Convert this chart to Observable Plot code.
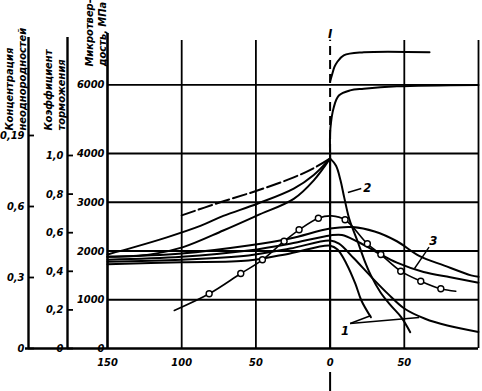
<!DOCTYPE html>
<html><head><meta charset="utf-8">
<script src="https://cdn.jsdelivr.net/npm/d3@7"></script>
<script src="https://cdn.jsdelivr.net/npm/@observablehq/plot@0.6"></script>
<style>
body{margin:0;background:#fff;}
#wrap{position:relative;width:482px;height:391px;overflow:hidden;background:#fff;}
#wrap svg{position:absolute;left:0;top:0;}
</style></head><body><div id="wrap"></div>
<script>
// ---- axis ticks / labels ----
const xTicks = [-150, -100, -50, 0, 50];
const xTickLabels = ["150", "100", "50", "0", "50"];
const gridX = [-100, -50, 50, 100];
const mpaTicks = [0, 1000, 2000, 3000, 4000, 6000];
const mpaLabels = ["0", "1000", "2000", "3000", "4000", "6000"];
const gridY = [1000, 2000, 3000, 4000, 6000];
const coefTicks = [0, 0.2, 0.4, 0.6, 0.8, 1.0];
const coefLabels = ["0", "0,2", "0,4", "0,6", "0,8", "1,0"];
const concTicks = [0, 0.3, 0.6, 0.9];
const concLabels = ["0", "0,3", "0,6", "0,19"];
const concTitle = "Концентрация\nнеоднородностей";
const coefTitle = "Коэффициент\nторможения";
const mpaTitle = "Микротвер-\nдость, МПа";

// ---- series (x: distance, µm; y: microhardness, MPa) ----
const dashedCurve = [[-100,2730],[-74,3000],[-49,3240],[-24.5,3510],[-11,3700],[0,3900]];
const curveA = [[-150,1930],[-132,2080],[-110,2280],[-87,2520],[-72,2720],[-49,2970],[-24.5,3280],[-11,3560],[0,3900]];
const curveB = [[-150,1880],[-121,1930],[-99,2080],[-72,2420],[-49,2730],[-24.5,3070],[-11,3450],[0,3900]];
const curveM1 = [[-150,1880],[-100,1950],[-55,2113],[-27,2256],[0,2460],[15,2490],[30,2400],[45,2200],[60,1900],[77,1700],[95,1500],[100,1470]];
const curveM2 = [[-150,1820],[-100,1880],[-55,2010],[-27,2150],[0,2320],[8,2330],[18,2200],[30,2000],[45,1760],[63,1570],[81,1460],[100,1350]];
const curveM3 = [[-150,1780],[-100,1820],[-55,1908],[-27,2050],[0,2215],[6,2150],[16,1850],[28,1460],[39,1120],[50,820],[64,610],[79,470],[100,340]];
const curveM4 = [[-150,1730],[-100,1770],[-55,1805],[-27,1950],[0,2110],[5,2030],[11,1740],[17,1330],[21,990],[27.5,640]];
const curve2 = [[0,3900],[4,3750],[7,3450],[9.5,3100],[13,2650],[18.5,2200],[23,1820],[27.5,1500],[34,1150],[41,880],[48,640],[54,335]];
const curve3Line = [[-105,780],[-81.5,1122],[-60.2,1538],[-45.6,1819],[-31,2201],[-20.9,2435],[-7.9,2673],[1,2720],[10.1,2640],[25.1,2148],[34.2,1928],[47.6,1586],[61.1,1381],[74.6,1225],[84.7,1175]];
const curve3Dots = [[-81.5,1122],[-60.2,1538],[-45.6,1819],[-31,2201],[-20.9,2435],[-7.9,2673],[10.1,2640],[25.1,2148],[34.2,1928],[47.6,1586],[61.1,1381],[74.6,1225]];
const topCurve1 = [[0,6100],[1.3,6300],[3,6530],[4.7,6660],[9.2,6860],[22.7,6950],[67,6950]];
const topCurve2 = [[0,4000],[0.2,4730],[2.5,5350],[5.9,5690],[13.5,5840],[22.7,5890],[45,5960],[100,6000]];

// ---- annotations ----
const curveLabels = [
  {t: "2", x: 25, y: 3300},
  {t: "3", x: 69.5, y: 2215},
  {t: "1", x: 10, y: 369},
  {t: "I", x: 0, y: 7500}
];
const leaders = [
  {x1: 12, y1: 3200, x2: 21, y2: 3282},
  {x1: 66.7, y1: 2078, x2: 56.9, y2: 1641},
  {x1: 13.5, y1: 513, x2: 27.6, y2: 677},
  {x1: 13.5, y1: 513, x2: 60, y2: 636}
];

const FONT = "'DejaVu Sans Condensed','Liberation Sans Narrow','DejaVu Sans',sans-serif";
const pts = a => a.map(([x, y]) => ({x, y}));
const L = {x: "x", y: "y", stroke: "#000", strokeWidth: 2, curve: "catmull-rom"};
const T = {fontFamily: FONT, fontStyle: "italic", fontWeight: "bold", fill: "#000"};
const W = 482, H = 391;
const wrap = document.getElementById("wrap");
// axis break: above 4000 MPa the printed scale is compressed
const brk = v => v <= 4000 ? v : 4000 + (v - 4000) * 0.7036;

const main = Plot.plot({
  width: W, height: H,
  marginLeft: 107, marginRight: 4, marginTop: 33, marginBottom: 43,
  x: {domain: [-150, 100], range: [107, 478], axis: null},
  y: {domain: [0, 4000], range: [348, 153], transform: brk, axis: null},
  style: {background: "transparent"},
  marks: [
    Plot.ruleY(gridY, {stroke: "#000", strokeWidth: 1.8}),
    Plot.ruleX(gridX, {stroke: "#000", strokeWidth: 1.8, insetTop: 7}),
    Plot.ruleX([-150], {stroke: "#000", strokeWidth: 2.6}),
    Plot.ruleY([0], {stroke: "#000", strokeWidth: 2.4, insetLeft: -82}),
    Plot.ruleX([0], {y1: 0, y2: 4000, stroke: "#000", strokeWidth: 2.2}),
    Plot.ruleX([0], {y1: 4000, y2: 7300, stroke: "#000", strokeWidth: 2, strokeDasharray: "9,5"}),
    Plot.ruleX([0], {stroke: "#000", strokeWidth: 2, insetTop: 339, insetBottom: -43}),
    Plot.line(pts(dashedCurve), {...L, strokeDasharray: "14,4"}),
    Plot.line(pts(curveA), L),
    Plot.line(pts(curveB), L),
    Plot.line(pts(curveM1), L),
    Plot.line(pts(curveM2), L),
    Plot.line(pts(curveM3), L),
    Plot.line(pts(curveM4), L),
    Plot.line(pts(curve2), L),
    Plot.line(pts(curve3Line), {...L, strokeWidth: 1.6}),
    Plot.dot(pts(curve3Dots), {x: "x", y: "y", r: 3, fill: "#fff", stroke: "#000", strokeWidth: 1.4}),
    Plot.line(pts(topCurve1), L),
    Plot.line(pts(topCurve2), L),
    Plot.link(leaders, {x1: "x1", y1: "y1", x2: "x2", y2: "y2", stroke: "#000", strokeWidth: 1.4}),
    Plot.text(curveLabels, {x: "x", y: "y", text: "t", fontSize: 13, ...T}),
    Plot.text(xTicks, {x: d => d, y: () => 0, text: (d, i) => xTickLabels[i], dy: 14, fontSize: 11, ...T}),
    Plot.text(mpaTicks, {x: () => -150, y: d => d, text: (d, i) => mpaLabels[i], textAnchor: "end", dx: -3, fontSize: 11, ...T}),
    Plot.text([mpaTitle], {frameAnchor: "top-left", dx: -24, dy: 33, rotate: -90, textAnchor: "start", lineAnchor: "top", lineHeight: 1.2, fontSize: 11, ...T})
  ]
});
wrap.appendChild(main);

function sideAxis(left, domain, range, ticks, labels, title) {
  return Plot.plot({
    width: W, height: H,
    marginLeft: left, marginRight: W - left - 6, marginTop: 37, marginBottom: 43,
    x: {domain: [0, 1], axis: null},
    y: {domain, range, axis: null},
    style: {background: "transparent"},
    marks: [
      Plot.ruleX([0], {stroke: "#000", strokeWidth: 2.4}),
      Plot.ruleY(ticks, {x1: 0, x2: 1, stroke: "#000", strokeWidth: 1.8}),
      Plot.text(ticks, {x: () => 0, y: d => d, text: (d, i) => labels[i], textAnchor: "end", dx: -4, fontSize: 11, ...T}),
      Plot.text([title], {frameAnchor: "top-left", dx: -25, dy: 93, rotate: -90, textAnchor: "start", lineAnchor: "top", lineHeight: 1.2, fontSize: 11, ...T})
    ]
  });
}
wrap.appendChild(sideAxis(28, [0, 0.9], [348, 135], concTicks, concLabels, concTitle));
wrap.appendChild(sideAxis(67, [0, 1], [348, 155], coefTicks, coefLabels, coefTitle));
</script></body></html>
